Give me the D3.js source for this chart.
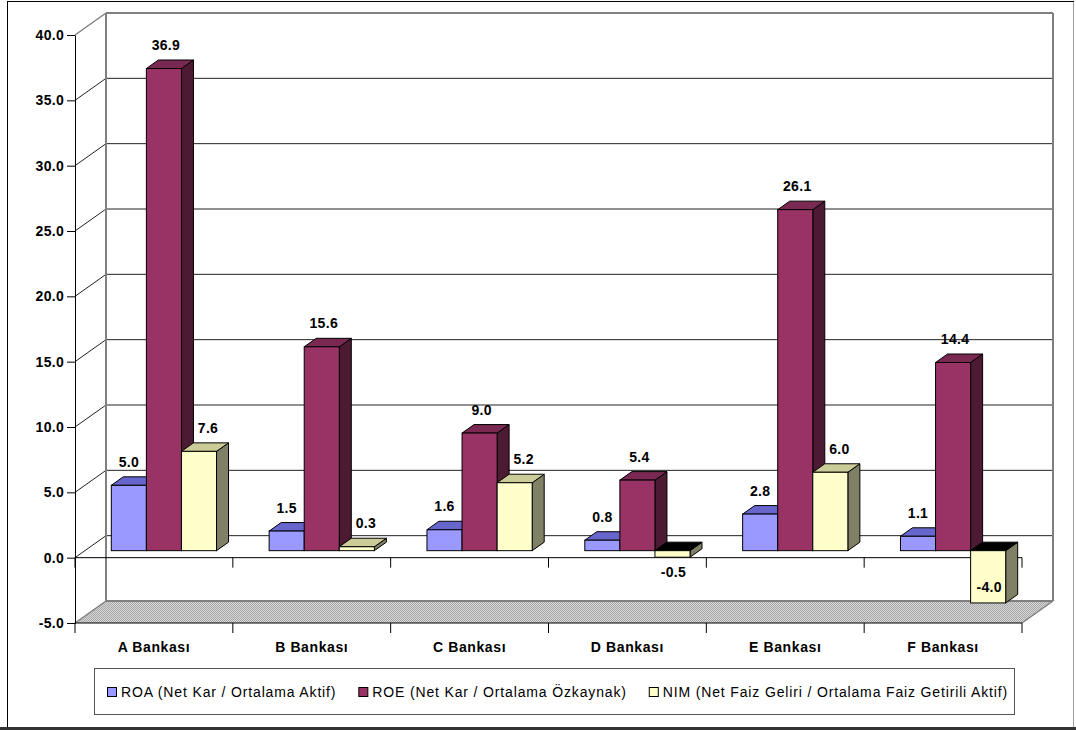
<!DOCTYPE html>
<html>
<head>
<meta charset="utf-8">
<script src="https://cdn.jsdelivr.net/npm/d3@7"></script>
<style>
  html, body { margin: 0; padding: 0; background: #fff; }
  svg { display: block; font-family: "Liberation Sans", Arial, sans-serif; }
</style>
</head>
<body>
<svg id="chart" width="1076" height="730"></svg>
<script>
// Bank profitability ratios (%)
const categories = ["A Bankası", "B Bankası", "C Bankası", "D Bankası", "E Bankası", "F Bankası"];
const roaValues = [5.0, 1.5, 1.6, 0.8, 2.8, 1.1];
const roeValues = [36.9, 15.6, 9.0, 5.4, 26.1, 14.4];
const nimValues = [7.6, 0.3, 5.2, -0.5, 6.0, -4.0];
const seriesNames = [
  "ROA (Net Kar / Ortalama Aktif)",
  "ROE (Net Kar / Ortalama Özkaynak)",
  "NIM (Net Faiz Geliri / Ortalama Faiz Getirili Aktif)"
];
const yTickValues = [-5, 0, 5, 10, 15, 20, 25, 30, 35, 40];

const series = [
  { name: seriesNames[0], values: roaValues, front: "#9999ff", top: "#6666cc", side: "#4d4d99" },
  { name: seriesNames[1], values: roeValues, front: "#993366", top: "#7a2952", side: "#4d1a33" },
  { name: seriesNames[2], values: nimValues, front: "#ffffcc", top: "#cccc99", side: "#808066" }
];

const fmt = v => v.toFixed(1);   // plain hyphen for negatives

const svg = d3.select("#chart");

// Plot geometry: front plane plus an oblique depth offset for the walls
const plot = { left: 75, right: 1022 };
const wall = { dx: 31, dy: -22 };
const barShift = { dx: 10, dy: -7 };   // bars sit partway into the depth
const barDepth = { dx: 12, dy: -8.5 };

const x = d3.scaleBand().domain(categories).range([plot.left, plot.right]);
const inner = d3.scaleBand().domain(d3.range(series.length))
  .range([0, x.bandwidth()]).paddingInner(0).paddingOuter(0.75);
const y = d3.scaleLinear().domain([-5, 40]).range([623, 35]);

const yMin = y.domain()[0], yMax = y.domain()[1];

// Floor hatch pattern
const defs = svg.append("defs");
const pat = defs.append("pattern").attr("id", "hatch")
  .attr("width", 2).attr("height", 2).attr("patternUnits", "userSpaceOnUse");
pat.append("rect").attr("width", 2).attr("height", 2).attr("fill", "#d6d6d6");
pat.append("rect").attr("width", 1).attr("height", 1).attr("fill", "#a8a8a8");
pat.append("rect").attr("x", 1).attr("y", 1).attr("width", 1).attr("height", 1).attr("fill", "#a8a8a8");

// Outer chart frame
svg.append("rect").attr("x", 7.5).attr("y", 1.5).attr("width", 1066).attr("height", 726)
  .attr("fill", "#fff").attr("stroke", "#000").attr("stroke-width", 1);
svg.append("line").attr("x1", 1073.5).attr("x2", 1073.5).attr("y1", 2).attr("y2", 727)
  .attr("stroke", "#a0a0a0");
svg.append("rect").attr("x", 0).attr("y", 727).attr("width", 1076).attr("height", 3).attr("fill", "#333");

const g = svg.append("g");
const bx0 = plot.left + wall.dx, bx1 = plot.right + wall.dx;

// Floor at the minimum value
g.append("polygon")
  .attr("points", [[plot.left, y(yMin)], [plot.right, y(yMin)], [bx1, y(yMin) + wall.dy], [bx0, y(yMin) + wall.dy]].join(" "))
  .attr("fill", "url(#hatch)").attr("stroke", "none");

// Back wall gridlines and side-wall diagonals
yTickValues.forEach(v => {
  const edge = (v === yMax || v === yMin);
  const col = edge ? "#808080" : "#222";
  const sw = edge ? 2 : 1;
  g.append("line")
    .attr("x1", bx0).attr("x2", bx1)
    .attr("y1", y(v) + wall.dy).attr("y2", y(v) + wall.dy)
    .attr("stroke", col).attr("stroke-width", sw);
  g.append("line")
    .attr("x1", plot.left).attr("y1", y(v))
    .attr("x2", bx0).attr("y2", y(v) + wall.dy)
    .attr("stroke", edge ? "#808080" : "#222").attr("stroke-width", edge ? 1.5 : 1);
});
// Wall verticals
g.append("line").attr("x1", bx0).attr("x2", bx0)
  .attr("y1", y(yMax) + wall.dy).attr("y2", y(yMin) + wall.dy)
  .attr("stroke", "#808080").attr("stroke-width", 2);
g.append("line").attr("x1", bx1).attr("x2", bx1)
  .attr("y1", y(yMax) + wall.dy).attr("y2", y(yMin) + wall.dy)
  .attr("stroke", "#808080").attr("stroke-width", 2);
// Floor right edge
g.append("line").attr("x1", plot.right).attr("y1", y(yMin))
  .attr("x2", bx1).attr("y2", y(yMin) + wall.dy)
  .attr("stroke", "#808080").attr("stroke-width", 1.5);

// Category axis lines at zero and at the floor, with boundary ticks
const boundaries = categories.map(c => x(c)).concat([plot.right]);
[0, yMin].forEach(v => {
  g.append("line").attr("x1", plot.left).attr("x2", plot.right)
    .attr("y1", y(v)).attr("y2", y(v)).attr("stroke", "#000");
  boundaries.forEach(b => {
    g.append("line").attr("x1", b).attr("x2", b)
      .attr("y1", y(v)).attr("y2", y(v) + 10).attr("stroke", "#000");
  });
});

// Value axis
const yAxis = g.append("g").attr("transform", `translate(${plot.left},0)`)
  .call(d3.axisLeft(y).tickValues(yTickValues).tickFormat(fmt)
    .tickSize(8).tickSizeOuter(0).tickPadding(3));
yAxis.select(".domain").attr("stroke", "#000");
yAxis.selectAll(".tick line").attr("stroke", "#000");
yAxis.selectAll("text").attr("font-size", 14).attr("font-weight", "bold")
  .attr("letter-spacing", "0.3px").attr("fill", "#000")
  .attr("font-family", "Liberation Sans, Arial, sans-serif");

// Category labels
const xAxis = g.append("g").attr("transform", `translate(0,${y(yMin)})`)
  .call(d3.axisBottom(x).tickSize(0).tickPadding(19));
xAxis.select(".domain").remove();
xAxis.selectAll("text").attr("font-size", 14).attr("font-weight", "bold")
  .attr("letter-spacing", "0.6px").attr("fill", "#000")
  .attr("font-family", "Liberation Sans, Arial, sans-serif");

// 3D bars: front, top and right side faces
const bars = g.append("g");
const labels = g.append("g");
const labelShift = [0, 2, 9];
categories.forEach((cat, ci) => {
  series.forEach((s, si) => {
    const v = s.values[ci];
    const L = x(cat) + inner(si) + barShift.dx;
    const R = L + inner.bandwidth();
    const ya = y(0) + barShift.dy, yb = y(v) + barShift.dy;
    const top = Math.min(ya, yb), bottom = Math.max(ya, yb);
    const dx = barDepth.dx, dy = barDepth.dy;
    const bar = bars.append("g");
    bar.append("polygon")
      .attr("points", [[R, top], [R + dx, top + dy], [R + dx, bottom + dy], [R, bottom]].join(" "))
      .attr("fill", s.side).attr("stroke", "#000").attr("stroke-linejoin", "round");
    bar.append("polygon")
      .attr("points", [[L, top], [L + dx, top + dy], [R + dx, top + dy], [R, top]].join(" "))
      .attr("fill", v < 0 ? "#000" : s.top).attr("stroke", "#000").attr("stroke-linejoin", "round");
    bar.append("rect")
      .attr("x", L).attr("y", top).attr("width", R - L).attr("height", bottom - top)
      .attr("fill", s.front).attr("stroke", "#000");

    const cx = (L + R) / 2;
    const lx = v >= 0 ? cx + labelShift[si] : cx + 1;
    const ly = v >= 0 ? top + dy - 10 : Math.min(bottom + 20, 592);
    labels.append("text")
      .attr("x", lx).attr("y", ly)
      .attr("text-anchor", "middle")
      .attr("font-size", 14).attr("font-weight", "bold").attr("letter-spacing", "0.3px")
      .attr("fill", "#000")
      .text(fmt(v));
  });
});

// Legend
const legend = svg.append("g");
legend.append("rect").attr("x", 94.5).attr("y", 668.5).attr("width", 920).attr("height", 46)
  .attr("fill", "#fff").attr("stroke", "#555");
let lx = 107;
series.forEach(s => {
  legend.append("rect").attr("x", lx + 0.5).attr("y", 687.5).attr("width", 9).attr("height", 9)
    .attr("fill", s.front).attr("stroke", "#000");
  const t = legend.append("text").attr("x", lx + 14).attr("y", 697)
    .attr("font-size", 14).attr("letter-spacing", "0.85px").attr("fill", "#000")
    .text(s.name);
  lx += 14 + t.node().getComputedTextLength() + 22;
});
</script>
</body>
</html>
